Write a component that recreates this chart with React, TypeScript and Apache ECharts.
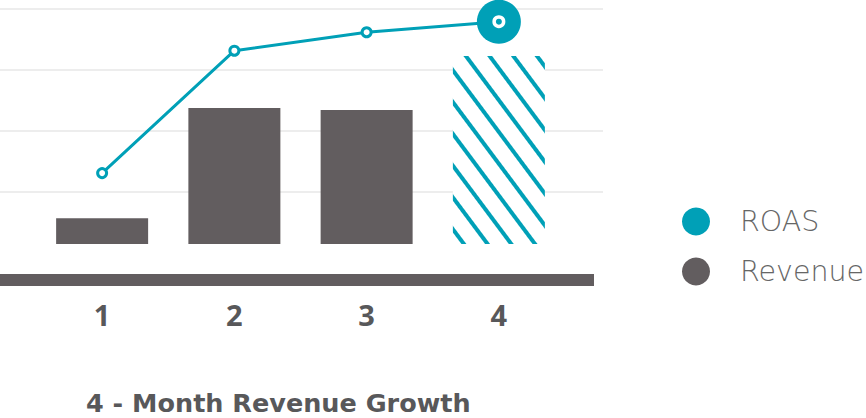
import React, { useEffect, useRef } from "react";
import * as echarts from "echarts";

const categories = ["1", "2", "3", "4"];
const revenue = [11.0, 58.1, 57.3, 80.3];
const roas = [30.3, 82.6, 90.5, 95.0];
const seriesNames = ["ROAS", "Revenue"];
const titleText = "4 - Month Revenue Growth";

const TEAL = "#00a0b7";
const GRAY = "#625d5f";
const TEXT = "#58585a";

export default function App() {
  const ref = useRef<HTMLDivElement>(null);
  useEffect(() => {
    if (!ref.current) return;
    const chart = echarts.init(ref.current, undefined, { renderer: "svg" });
    const last = categories.length - 1;
    chart.setOption({
      animation: false,
      backgroundColor: "#ffffff",
      title: {
        text: titleText,
        left: 86,
        top: 390,
        padding: 0,
        textStyle: { fontFamily: "DejaVu Sans", fontWeight: "bold", fontSize: 25.5, color: TEXT },
      },
      legend: {
        orient: "vertical",
        left: 682,
        top: 207,
        padding: 0,
        itemWidth: 28,
        itemHeight: 28,
        itemGap: 21,
        icon: "circle",
        data: [
          { name: seriesNames[0], itemStyle: { color: TEAL, borderWidth: 0 } },
          { name: seriesNames[1], itemStyle: { color: GRAY, borderWidth: 0 } },
        ],
        textStyle: { fontFamily: "DejaVu Sans", fontWeight: 200, fontSize: 28.5, color: "#666666", padding: [0, 0, 0, 25] },
      },
      grid: [
        { left: 36, right: 301, top: 10, bottom: 174 },
        { left: 0, width: 603, top: 9, bottom: 165 },
      ],
      xAxis: [
        {
          type: "category",
          gridIndex: 0,
          data: categories,
          axisLine: { show: false },
          axisTick: { show: false },
          axisLabel: { fontFamily: "Open Sans", fontWeight: "bold", fontSize: 29, color: TEXT, margin: 56 },
        },
        { type: "value", gridIndex: 1, show: false, min: 0, max: 1 },
      ],
      yAxis: [
        { type: "value", gridIndex: 0, min: 0, max: 100, show: false },
        { type: "value", gridIndex: 0, min: 0, max: 100, show: false },
        {
          type: "value",
          gridIndex: 1,
          min: 0,
          max: 4,
          interval: 1,
          axisLine: { show: false },
          axisTick: { show: false },
          axisLabel: { show: false },
          splitLine: { show: true, showMinLine: false, lineStyle: { color: "#ededed", width: 2 } },
        },
      ],
      graphic: [
        { type: "rect", left: 0, top: 274, shape: { width: 594, height: 12 }, style: { fill: GRAY }, z: 1 },
      ],
      series: [
        {
          name: seriesNames[1],
          type: "bar",
          xAxisIndex: 0,
          yAxisIndex: 0,
          barWidth: 92,
          itemStyle: { color: GRAY },
          data: revenue.map((v, i) =>
            i === last
              ? {
                  value: v,
                  itemStyle: {
                    color: "#ffffff",
                    decal: {
                      symbol: "rect",
                      symbolSize: 1,
                      color: TEAL,
                      dashArrayX: [1, 0],
                      dashArrayY: [3.6, 14.2],
                      rotation: 0.93,
                    },
                  },
                }
              : v
          ),
          z: 2,
        },
        {
          name: seriesNames[0],
          type: "line",
          xAxisIndex: 0,
          yAxisIndex: 1,
          symbol: "circle",
          symbolSize: 9,
          lineStyle: { color: TEAL, width: 3 },
          itemStyle: { color: "#ffffff", borderColor: TEAL, borderWidth: 3 },
          data: roas.map((v, i) =>
            i === last
              ? { value: v, symbolSize: 44, itemStyle: { color: TEAL, borderColor: TEAL, borderWidth: 0 } }
              : v
          ),
          markPoint: {
            silent: true,
            symbol: "circle",
            symbolSize: 9.5,
            label: { show: false },
            itemStyle: { color: TEAL, borderColor: "#ffffff", borderWidth: 3.5 },
            data: [{ coord: [last, roas[last]] }],
          },
          z: 3,
        },
      ],
    });
    return () => chart.dispose();
  }, []);
  return (
    <div
      ref={ref}
      style={{ position: "fixed", left: 0, top: 0, width: 866, height: 418 }}
    />
  );
}
